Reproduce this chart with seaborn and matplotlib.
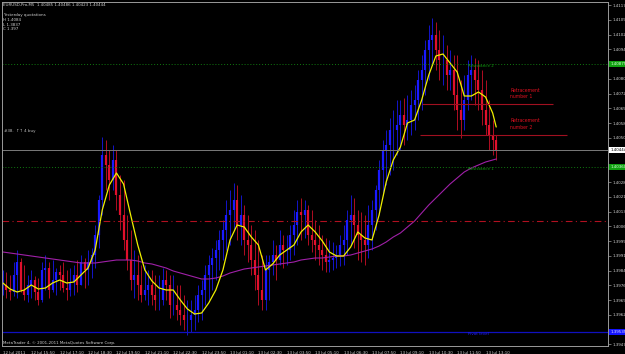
import matplotlib
matplotlib.use("Agg")
import matplotlib.pyplot as plt
import numpy as np
import pandas as pd
import seaborn as sns

# ---------------- data ----------------
# price bars (one entry per 10 minutes, x in M5-bar units)
bar_index = list(range(0, 279, 2))

high = [1.39845, 1.39835, 1.39820, 1.39885, 1.39945, 1.39905, 1.39870, 1.39820, 1.39845, 1.39815,
        1.39805, 1.39885, 1.39920, 1.39885, 1.39895, 1.39855, 1.39870, 1.39885, 1.39845, 1.39855,
        1.39870, 1.39895, 1.39920, 1.39905, 1.39945, 1.39955, 1.40070, 1.40220, 1.40510, 1.40495,
        1.40445, 1.40470, 1.40445, 1.40320, 1.40295, 1.40120, 1.40045, 1.39945, 1.39920, 1.39870,
        1.39870, 1.39845, 1.39845, 1.39820, 1.39820, 1.39855, 1.39845, 1.39820, 1.39820, 1.39770,
        1.39770, 1.39720, 1.39695, 1.39695, 1.39720, 1.39770, 1.39795, 1.39870, 1.39920, 1.39955,
        1.39995, 1.40045, 1.40095, 1.40195, 1.40245, 1.40280, 1.40270, 1.40220, 1.40170, 1.40120,
        1.40070, 1.40045, 1.39995, 1.39920, 1.39920, 1.39920, 1.39995, 1.39970, 1.40045, 1.40020,
        1.40020, 1.40070, 1.40145, 1.40195, 1.40205, 1.40195, 1.40170, 1.40145, 1.40095, 1.40070,
        1.40020, 1.40005, 1.39995, 1.39985, 1.39970, 1.40020, 1.40070, 1.40145, 1.40220, 1.40205,
        1.40145, 1.40135, 1.40120, 1.40170, 1.40195, 1.40270, 1.40395, 1.40495, 1.40545, 1.40605,
        1.40645, 1.40695, 1.40695, 1.40705, 1.40720, 1.40745, 1.40770, 1.40845, 1.40920, 1.40995,
        1.41070, 1.41105, 1.41085, 1.41045, 1.41020, 1.40970, 1.40945, 1.40920, 1.40920, 1.40795,
        1.40820, 1.40895, 1.40920, 1.40905, 1.40895, 1.40845, 1.40795, 1.40695, 1.40595, 1.40520]
low = [1.39720, 1.39705, 1.39695, 1.39715, 1.39705, 1.39735, 1.39695, 1.39685, 1.39705, 1.39695,
       1.39670, 1.39685, 1.39745, 1.39705, 1.39735, 1.39720, 1.39745, 1.39735, 1.39695, 1.39715,
       1.39720, 1.39735, 1.39770, 1.39755, 1.39770, 1.39805, 1.39855, 1.39955, 1.40120, 1.40245,
       1.40195, 1.40245, 1.40145, 1.40045, 1.39945, 1.39845, 1.39745, 1.39705, 1.39695, 1.39685,
       1.39695, 1.39670, 1.39670, 1.39645, 1.39645, 1.39670, 1.39695, 1.39605, 1.39620, 1.39595,
       1.39570, 1.39545, 1.39520, 1.39535, 1.39545, 1.39585, 1.39595, 1.39670, 1.39695, 1.39745,
       1.39795, 1.39845, 1.39895, 1.39945, 1.39970, 1.40045, 1.39995, 1.39970, 1.39920, 1.39885,
       1.39820, 1.39745, 1.39670, 1.39645, 1.39645, 1.39695, 1.39820, 1.39795, 1.39870, 1.39855,
       1.39870, 1.39895, 1.39920, 1.39970, 1.39995, 1.40005, 1.39970, 1.39935, 1.39895, 1.39870,
       1.39845, 1.39835, 1.39835, 1.39845, 1.39855, 1.39865, 1.39870, 1.39920, 1.39970, 1.39955,
       1.39895, 1.39885, 1.39870, 1.39905, 1.39945, 1.40045, 1.40120, 1.40220, 1.40270, 1.40320,
       1.40345, 1.40420, 1.40445, 1.40470, 1.40495, 1.40520, 1.40545, 1.40595, 1.40645, 1.40720,
       1.40795, 1.40870, 1.40845, 1.40795, 1.40770, 1.40745, 1.40745, 1.40645, 1.40545, 1.40505,
       1.40545, 1.40645, 1.40695, 1.40670, 1.40645, 1.40570, 1.40520, 1.40445, 1.40420, 1.40395]
close = [1.39770, 1.39745, 1.39735, 1.39820, 1.39885, 1.39745, 1.39720, 1.39770, 1.39795, 1.39735,
         1.39695, 1.39845, 1.39855, 1.39745, 1.39795, 1.39835, 1.39820, 1.39755, 1.39745, 1.39785,
         1.39820, 1.39770, 1.39885, 1.39845, 1.39885, 1.39920, 1.40020, 1.40195, 1.40420, 1.40370,
         1.40295, 1.40395, 1.40220, 1.40120, 1.39995, 1.39895, 1.39795, 1.39820, 1.39770, 1.39720,
         1.39745, 1.39770, 1.39720, 1.39695, 1.39695, 1.39795, 1.39770, 1.39670, 1.39670, 1.39645,
         1.39620, 1.39595, 1.39595, 1.39620, 1.39645, 1.39720, 1.39745, 1.39820, 1.39870, 1.39905,
         1.39945, 1.39995, 1.40045, 1.40120, 1.40145, 1.40195, 1.40070, 1.40120, 1.39995, 1.39970,
         1.39895, 1.39820, 1.39745, 1.39695, 1.39845, 1.39885, 1.39920, 1.39895, 1.39970, 1.39945,
         1.39945, 1.40020, 1.40070, 1.40135, 1.40120, 1.40145, 1.40020, 1.39995, 1.39970, 1.39945,
         1.39920, 1.39885, 1.39895, 1.39905, 1.39920, 1.39970, 1.39995, 1.40095, 1.40120, 1.40070,
         1.40020, 1.39995, 1.39970, 1.40070, 1.40145, 1.40245, 1.40345, 1.40445, 1.40470, 1.40545,
         1.40545, 1.40570, 1.40620, 1.40570, 1.40595, 1.40670, 1.40695, 1.40795, 1.40845, 1.40945,
         1.40995, 1.41020, 1.40945, 1.40895, 1.40895, 1.40820, 1.40845, 1.40720, 1.40645, 1.40595,
         1.40695, 1.40820, 1.40845, 1.40795, 1.40745, 1.40645, 1.40570, 1.40520, 1.40495, 1.40444]

# moving averages (one entry per 20 minutes)
ma_index = list(range(0, 277, 4)) + [278]
ma_fast = [1.39780, 1.39750, 1.39735, 1.39745, 1.39770, 1.39750, 1.39755, 1.39780, 1.39795, 1.39780,
           1.39785, 1.39820, 1.39855, 1.39945, 1.40145, 1.40270, 1.40330, 1.40275, 1.40120, 1.39970,
           1.39845, 1.39790, 1.39755, 1.39745, 1.39745, 1.39695, 1.39650, 1.39625, 1.39630, 1.39680,
           1.39745, 1.39845, 1.39995, 1.40070, 1.40060, 1.40010, 1.39970, 1.39845, 1.39875, 1.39920,
           1.39945, 1.39970, 1.40035, 1.40070, 1.40035, 1.39990, 1.39935, 1.39915, 1.39915, 1.39960,
           1.40035, 1.40005, 1.39995, 1.40120, 1.40285, 1.40395, 1.40460, 1.40580, 1.40595, 1.40695,
           1.40820, 1.40915, 1.40925, 1.40880, 1.40835, 1.40715, 1.40715, 1.40735, 1.40710, 1.40630,
           1.40560]
ma_slow = [1.39935, 1.39930, 1.39925, 1.39920, 1.39915, 1.39910, 1.39905, 1.39900, 1.39895, 1.39890,
           1.39885, 1.39880, 1.39880, 1.39880, 1.39885, 1.39890, 1.39895, 1.39895, 1.39895, 1.39890,
           1.39880, 1.39875, 1.39865, 1.39855, 1.39840, 1.39830, 1.39820, 1.39810, 1.39800, 1.39800,
           1.39805, 1.39815, 1.39830, 1.39840, 1.39850, 1.39855, 1.39860, 1.39865, 1.39870, 1.39875,
           1.39880, 1.39885, 1.39895, 1.39900, 1.39905, 1.39905, 1.39910, 1.39915, 1.39915, 1.39920,
           1.39930, 1.39940, 1.39950, 1.39965, 1.39985, 1.40010, 1.40030, 1.40060, 1.40090, 1.40130,
           1.40170, 1.40205, 1.40240, 1.40275, 1.40305, 1.40335, 1.40355, 1.40370, 1.40385, 1.40395,
           1.40400]

time_labels = ["12 Jul 2011", "12 Jul 15:50", "12 Jul 17:10", "12 Jul 18:30", "12 Jul 19:50",
               "12 Jul 21:10", "12 Jul 22:30", "12 Jul 23:50", "13 Jul 01:10", "13 Jul 02:30",
               "13 Jul 03:50", "13 Jul 05:10", "13 Jul 06:30", "13 Jul 07:50", "13 Jul 09:10",
               "13 Jul 10:30", "13 Jul 11:50", "13 Jul 13:10"]
time_ticks = [16 * i for i in range(len(time_labels))]

# price scale ticks (labels hidden under the coloured price boxes are left out)
price_ticks = [1.41170, 1.41096, 1.41022, 1.40949, 1.40801, 1.40727, 1.40654, 1.40580,
               1.40506, 1.40285, 1.40211, 1.40137, 1.40064, 1.39990, 1.39916,
               1.39842, 1.39769, 1.39695, 1.39621, 1.39475]
price_tick_labels = [f"{p:.5f}" for p in price_ticks]

resistance2 = 1.40875
resistance1 = 1.40360
bid_price = 1.40444
dashdot_level = 1.40092
pivot_level = 1.39535
retr1 = 1.40675
retr2 = 1.40520
retr1_span = (236, 310)
retr2_span = (235, 318)

header = "EURUSD,Pro,M5  1.40485 1.40486 1.40423 1.40444"
info_lines = ["Yesterday quotations", "H 1.4084", "L 1.3837", "C 1.397"]
order_text = "#38.  \u2191\u2191 4 buy"
footer = "MetaTrader 4, \u00a9 2001-2011 MetaQuotes Software Corp."

# ---------------- figure ----------------
sns.set_theme(style="dark", rc={"axes.facecolor": "black", "figure.facecolor": "black"})
plt.rcParams["font.family"] = ["DejaVu Sans"]

FS = 2.9
W, H = 625, 354
fig = plt.figure(figsize=(W / 100, H / 100), dpi=100, facecolor="black")
ax = fig.add_axes([2 / W, 8 / H, 606 / W, 344 / H])
ax.set_facecolor("black")

bars = pd.DataFrame({"bar": bar_index, "high": high, "low": low, "close": close})
bars["open"] = bars["close"].shift(1).fillna(bars["close"].iloc[0])
up = bars["close"] >= bars["open"]
cols = np.where(up, "#1a1aff", "#e0102c")

ax.vlines(bars["bar"], bars["low"], bars["high"], colors=cols, lw=0.55)
ax.vlines(bars["bar"], bars[["open", "close"]].min(axis=1),
          bars[["open", "close"]].max(axis=1), colors=cols, lw=1.6)

ma = pd.DataFrame({"bar": ma_index, "fast": ma_fast, "slow": ma_slow})
sns.lineplot(data=ma, x="bar", y="slow", color="#a020a8", lw=0.8, ax=ax)
sns.lineplot(data=ma, x="bar", y="fast", color="#f0f000", lw=0.9, ax=ax)

ax.axhline(resistance2, color="#107a10", lw=0.7, ls=(0, (1, 2)))
ax.axhline(resistance1, color="#107a10", lw=0.7, ls=(0, (1, 2)))
ax.axhline(bid_price, color="#7a7a7a", lw=0.7)
ax.axhline(dashdot_level, color="#b01020", lw=0.8, ls=(0, (6, 3, 1, 3)))
ax.axhline(pivot_level, color="#1010c0", lw=0.9)
ax.hlines(retr1, *retr1_span, color="#a01020", lw=0.8)
ax.hlines(retr2, *retr2_span, color="#a01020", lw=0.8)

ax.set_xlim(-0.5, 341)
ax.set_ylim(1.39465, 1.41185)

ax.yaxis.tick_right()
ax.set_yticks(price_ticks)
ax.set_yticklabels(price_tick_labels)
ax.set_xticks(time_ticks)
ax.set_xticklabels(time_labels, ha="left")
ax.tick_params(axis="both", colors="#9a9a9a", labelcolor="#d0d0d0", labelsize=FS,
               length=2, width=0.5, pad=1.5)
ax.set_xlabel("")
ax.set_ylabel("")
ax.grid(False)
for s in ax.spines.values():
    s.set_visible(True)
    s.set_color("#9a9a9a")
    s.set_linewidth(0.7)

# right-side price boxes
box_specs = [(resistance2, "#10a010", "#d8ffd8"), (resistance1, "#10a010", "#d8ffd8"),
             (bid_price, "#ffffff", "#000000"), (pivot_level, "#1414ff", "#e0e0ff")]
for val, fc, tc in box_specs:
    ax.text(1.004, val, f"{val:.5f}", transform=ax.get_yaxis_transform(), ha="left",
            va="center", fontsize=FS, color=tc,
            bbox=dict(boxstyle="square,pad=0.3", fc=fc, ec="none"))

# on-chart texts
ax.text(262, resistance2 - 0.00012, "Resistance 2", color="#10a010", fontsize=FS, va="center")
ax.text(262, resistance1 - 0.00012, "Resistance 1", color="#10a010", fontsize=FS, va="center")
ax.text(262, pivot_level - 0.00012, "Pivot level", color="#2020ff", fontsize=FS, va="center")
ax.text(286, 1.40745, "Retracement", color="#e01020", fontsize=3.3, va="center")
ax.text(286, 1.40715, "number 1", color="#e01020", fontsize=3.3, va="center")
ax.text(286, 1.40595, "Retracement", color="#e01020", fontsize=3.3, va="center")
ax.text(286, 1.40560, "number 2", color="#e01020", fontsize=3.3, va="center")

fig.text(3 / W, 1 - 5 / H, header, color="#d0d0d0", fontsize=FS, va="center")
for i, line in enumerate(info_lines):
    fig.text(3 / W, 1 - (15 + 4.8 * i) / H, line, color="#d0d0d0", fontsize=FS, va="center")
fig.text(4 / W, 1 - 131 / H, order_text, color="#c0c0c0", fontsize=FS, va="center")
fig.text(3 / W, 1 - 343 / H, footer, color="#d0d0d0", fontsize=FS, va="center")

fig.savefig("out.png", dpi=100, facecolor="black")
